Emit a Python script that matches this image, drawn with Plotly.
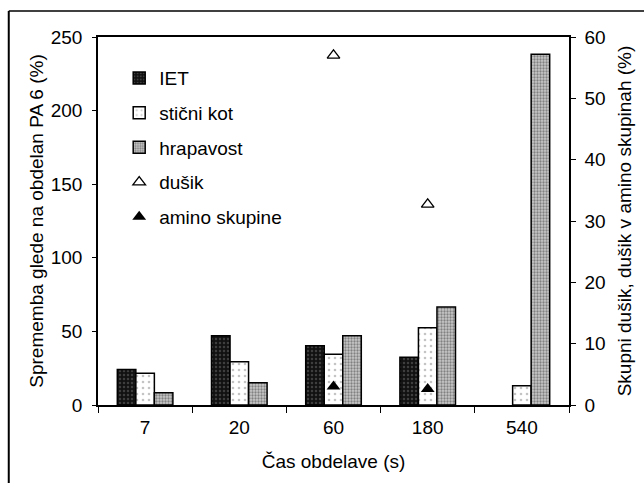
import plotly.graph_objects as go

categories = ["7", "20", "60", "180", "540"]
iet = [24.2, 47.0, 40.3, 32.4, None]
sticni_kot = [21.5, 29.4, 34.4, 52.5, 13.1]
hrapavost = [8.4, 15.2, 47.0, 66.6, 238.2]
dusik = [None, None, 57.0, 32.7, None]
amino = [None, None, 3.0, 2.6, None]

FONT = "Liberation Sans, Arial, sans-serif"
FS = 19
L, R, T, B = 98, 71, 37, 78
W, H = 644, 483
pw, ph = W - L - R, H - T - B

fig = go.Figure()
fig.add_trace(go.Bar(
    x=categories, y=iet, name="IET", legendgroup="a",
    marker=dict(color="#1a1a1a", line=dict(color="black", width=1.5),
                pattern=dict(shape=".", fgcolor="#6a6a6a", bgcolor="#111111",
                             size=4, solidity=0.3)),
))
fig.add_trace(go.Bar(
    x=categories, y=sticni_kot, name="stični kot", legendgroup="b",
    marker=dict(color="white", line=dict(color="black", width=1.5),
                pattern=dict(shape=".", fgcolor="#8a8a8a", bgcolor="#ffffff",
                             size=6, solidity=0.15)),
))
fig.add_trace(go.Bar(
    x=categories, y=hrapavost, name="hrapavost", legendgroup="c",
    marker=dict(color="#999999", line=dict(color="black", width=1.5),
                pattern=dict(shape=".", fgcolor="#3a3a3a", bgcolor="#c8c8c8",
                             size=3, solidity=0.45)),
))
fig.add_trace(go.Scatter(
    x=categories, y=dusik, name="dušik", legendgroup="d", yaxis="y2",
    mode="markers",
    marker=dict(symbol="triangle-up-open", size=11, color="black",
                line=dict(width=1.3, color="black")),
))
fig.add_trace(go.Scatter(
    x=categories, y=amino, name="amino skupine", legendgroup="e", yaxis="y2",
    mode="markers",
    marker=dict(symbol="triangle-up", size=12, color="black"),
))

axis_common = dict(showgrid=False, zeroline=False, showline=True,
                   linecolor="black", linewidth=1.5, ticks="outside",
                   tickcolor="black", tickwidth=1.2,
                   tickfont=dict(family=FONT, size=FS, color="black"))

fig.update_layout(
    width=W, height=H,
    margin=dict(l=L, r=R, t=T, b=B, pad=0),
    paper_bgcolor="white", plot_bgcolor="white",
    barmode="group", bargap=0.41, bargroupgap=0,
    showlegend=True,
    legend=dict(x=0.045, y=0.94, xanchor="left", yanchor="top",
                bgcolor="rgba(0,0,0,0)", tracegroupgap=7,
                font=dict(family=FONT, size=FS, color="black"),
                itemwidth=30),
    xaxis=dict(type="category", tickson="boundaries", ticklen=6,
               mirror=True, ticklabelstandoff=4,
               title=dict(text="Čas obdelave (s)", standoff=18,
                          font=dict(family=FONT, size=FS, color="black")),
               **axis_common),
    yaxis=dict(range=[0, 250], dtick=50, ticklen=4, ticklabelstandoff=6,
               title=dict(text="Sprememba glede na obdelan PA 6 (%)", standoff=2,
                          font=dict(family=FONT, size=FS, color="black")),
               **axis_common),
    yaxis2=dict(range=[0, 60], dtick=10, ticklen=5, overlaying="y", side="right",
                ticklabelstandoff=5,
                title=dict(text="Skupni dušik, dušik v amino skupinah (%)", standoff=13,
                           font=dict(family=FONT, size=FS, color="black")),
                **axis_common),
)

# outer frame of the figure (top and left edges visible)
fig.add_shape(type="line", xref="paper", yref="paper",
              x0=(8 - L) / pw, x1=(W + 10 - L) / pw,
              y0=(H - B - 11) / ph, y1=(H - B - 11) / ph,
              line=dict(color="black", width=1.5))
fig.add_shape(type="line", xref="paper", yref="paper",
              x0=(8 - L) / pw, x1=(8 - L) / pw,
              y0=(H - B - 11) / ph, y1=(H - B - H - 10) / ph,
              line=dict(color="black", width=2))

fig.write_html("out.html")
